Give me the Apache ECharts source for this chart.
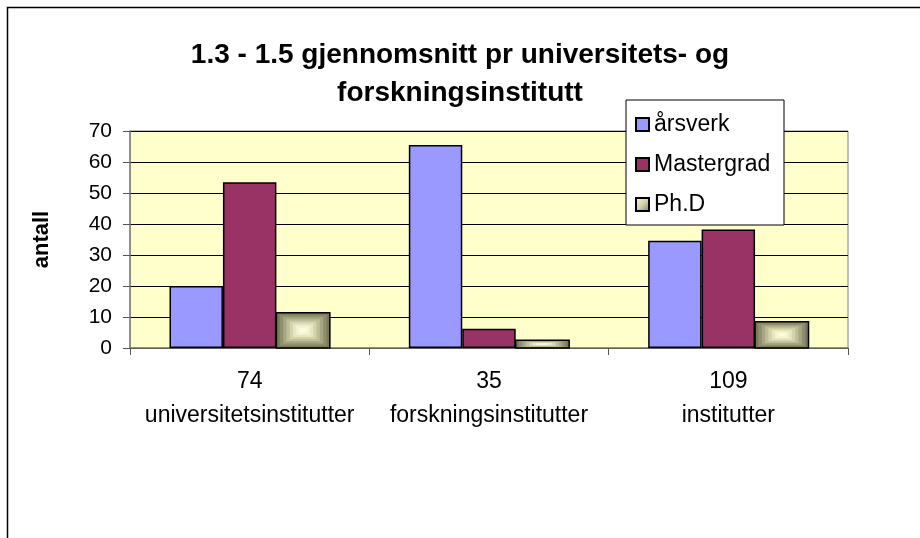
<!DOCTYPE html>
<html>
<head>
<meta charset="utf-8">
<script src="https://cdn.jsdelivr.net/npm/echarts@6/dist/echarts.min.js"></script>
<style>
  html, body { margin: 0; padding: 0; background: #fff; }
  #chart { width: 920px; height: 538px; }
</style>
</head>
<body>
<div id="chart"></div>
<script>
// antall institutter og navn per kategori
var counts = [74, 35, 109]
var names = ['universitetsinstitutter', 'forskningsinstitutter', 'institutter']
// gjennomsnitt per institutt
var arsverk = [20, 65.5, 34.6]
var mastergrad = [53.5, 6.2, 38.2]
var phd = [11.4, 2.5, 8.5]
var yTicks = [0, 10, 20, 30, 40, 50, 60, 70]

var categories = names.map(function (n, i) { return counts[i] + '\n' + n })
var catGap = 0.33

// Ph.D has a rectangular "from center" gradient like the Excel original
var ringColors = ['#7a7a5a', '#8f8f6e', '#a6a683', '#bdbd98', '#d3d3ad', '#e6e6c0', '#f4f4d2', '#fbfbe0']

function renderPhd (params, api) {
  var idx = api.value(0)
  var top = api.coord([idx, api.value(1)])
  var base = api.coord([idx, 0])
  var band = api.size([1, 0])[0]
  var w = band * (1 - catGap) / 3
  var x0 = top[0] + w / 2
  var h = base[1] - top[1]
  var cx = x0 + w / 2
  var cy = top[1] + h / 2
  var children = []
  var n = ringColors.length
  for (var k = 0; k < n; k++) {
    var f = 1 - k / n
    children.push({
      type: 'rect',
      shape: { x: cx - w * f / 2, y: cy - h * f / 2, width: w * f, height: h * f },
      style: { fill: ringColors[k] }
    })
  }
  children.push({
    type: 'rect',
    shape: { x: x0, y: top[1], width: w, height: h },
    style: { fill: 'none', stroke: '#000', lineWidth: 1.5 }
  })
  return { type: 'group', children: children }
}

var font = 'Liberation Sans, Arial, sans-serif'
var chart = echarts.init(document.getElementById('chart'))
var option = {
  backgroundColor: '#fff',
  animation: false,
  title: {
    text: '1.3 - 1.5 gjennomsnitt pr universitets- og\nforskningsinstitutt',
    left: 'center',
    top: 36,
    padding: [0, 0, 0, 24],
    textStyle: {
      fontFamily: font,
      fontSize: 28,
      fontWeight: 'bold',
      color: '#000',
      lineHeight: 38
    }
  },
  legend: {
    orient: 'vertical',
    left: 626,
    top: 100,
    padding: [13, 6, 9, 9],
    itemGap: 17,
    itemWidth: 13,
    itemHeight: 13,
    icon: 'rect',
    backgroundColor: '#fff',
    borderColor: '#000',
    borderWidth: 1,
    borderRadius: 0,
    data: ['årsverk', 'Mastergrad', 'Ph.D'],
    textStyle: {
      fontFamily: font,
      fontSize: 23,
      lineHeight: 20,
      width: 124,
      color: '#000'
    }
  },
  graphic: [{
    type: 'rect',
    shape: { x: 7.5, y: 7.5, width: 1000, height: 1000 },
    style: { fill: 'none', stroke: '#000', lineWidth: 1.5 },
    silent: true
  }],
  grid: {
    left: 130,
    right: 72,
    top: 131,
    bottom: 190,
    show: true,
    backgroundColor: '#FFFFCC',
    borderColor: '#808080',
    borderWidth: 1
  },
  xAxis: {
    type: 'category',
    data: categories,
    axisLine: { lineStyle: { color: '#808080', width: 1.5 } },
    axisTick: { show: true, length: 7, lineStyle: { color: '#555' } },
    axisLabel: {
      interval: 0,
      margin: 17,
      fontFamily: font,
      fontSize: 23,
      lineHeight: 34,
      color: '#000'
    }
  },
  yAxis: {
    type: 'value',
    min: yTicks[0],
    max: yTicks[yTicks.length - 1],
    interval: yTicks[1] - yTicks[0],
    name: 'antall',
    nameLocation: 'middle',
    nameGap: 77,
    nameTextStyle: {
      fontFamily: font,
      fontSize: 22,
      fontWeight: 'bold',
      color: '#000'
    },
    axisLine: { show: true, lineStyle: { color: '#808080', width: 1.5 } },
    axisTick: { show: true, length: 7, lineStyle: { color: '#555' } },
    axisLabel: {
      margin: 18,
      fontFamily: font,
      fontSize: 21,
      color: '#000'
    },
    splitLine: { lineStyle: { color: '#000', width: 1 } }
  },
  series: [
    {
      name: 'årsverk',
      type: 'bar',
      data: arsverk,
      barGap: 0,
      barCategoryGap: (catGap * 100) + '%',
      itemStyle: { color: '#9999FF', borderColor: '#000', borderWidth: 1.5 }
    },
    {
      name: 'Mastergrad',
      type: 'bar',
      data: mastergrad,
      itemStyle: { color: '#993366', borderColor: '#000', borderWidth: 1.5 }
    },
    {
      name: 'Ph.D',
      type: 'bar',
      data: phd,
      itemStyle: {
        color: new echarts.graphic.LinearGradient(0, 0, 1, 1, [
          { offset: 0, color: '#fbfbe0' },
          { offset: 0.5, color: '#d3d3ad' },
          { offset: 1, color: '#7a7a5a' }
        ]),
        borderColor: '#000',
        borderWidth: 1.5
      }
    },
    {
      type: 'custom',
      z: 3,
      renderItem: renderPhd,
      encode: { x: 0, y: 1 },
      data: phd.map(function (v, i) { return [i, v] })
    }
  ]
}
chart.setOption(option)
</script>
</body>
</html>
